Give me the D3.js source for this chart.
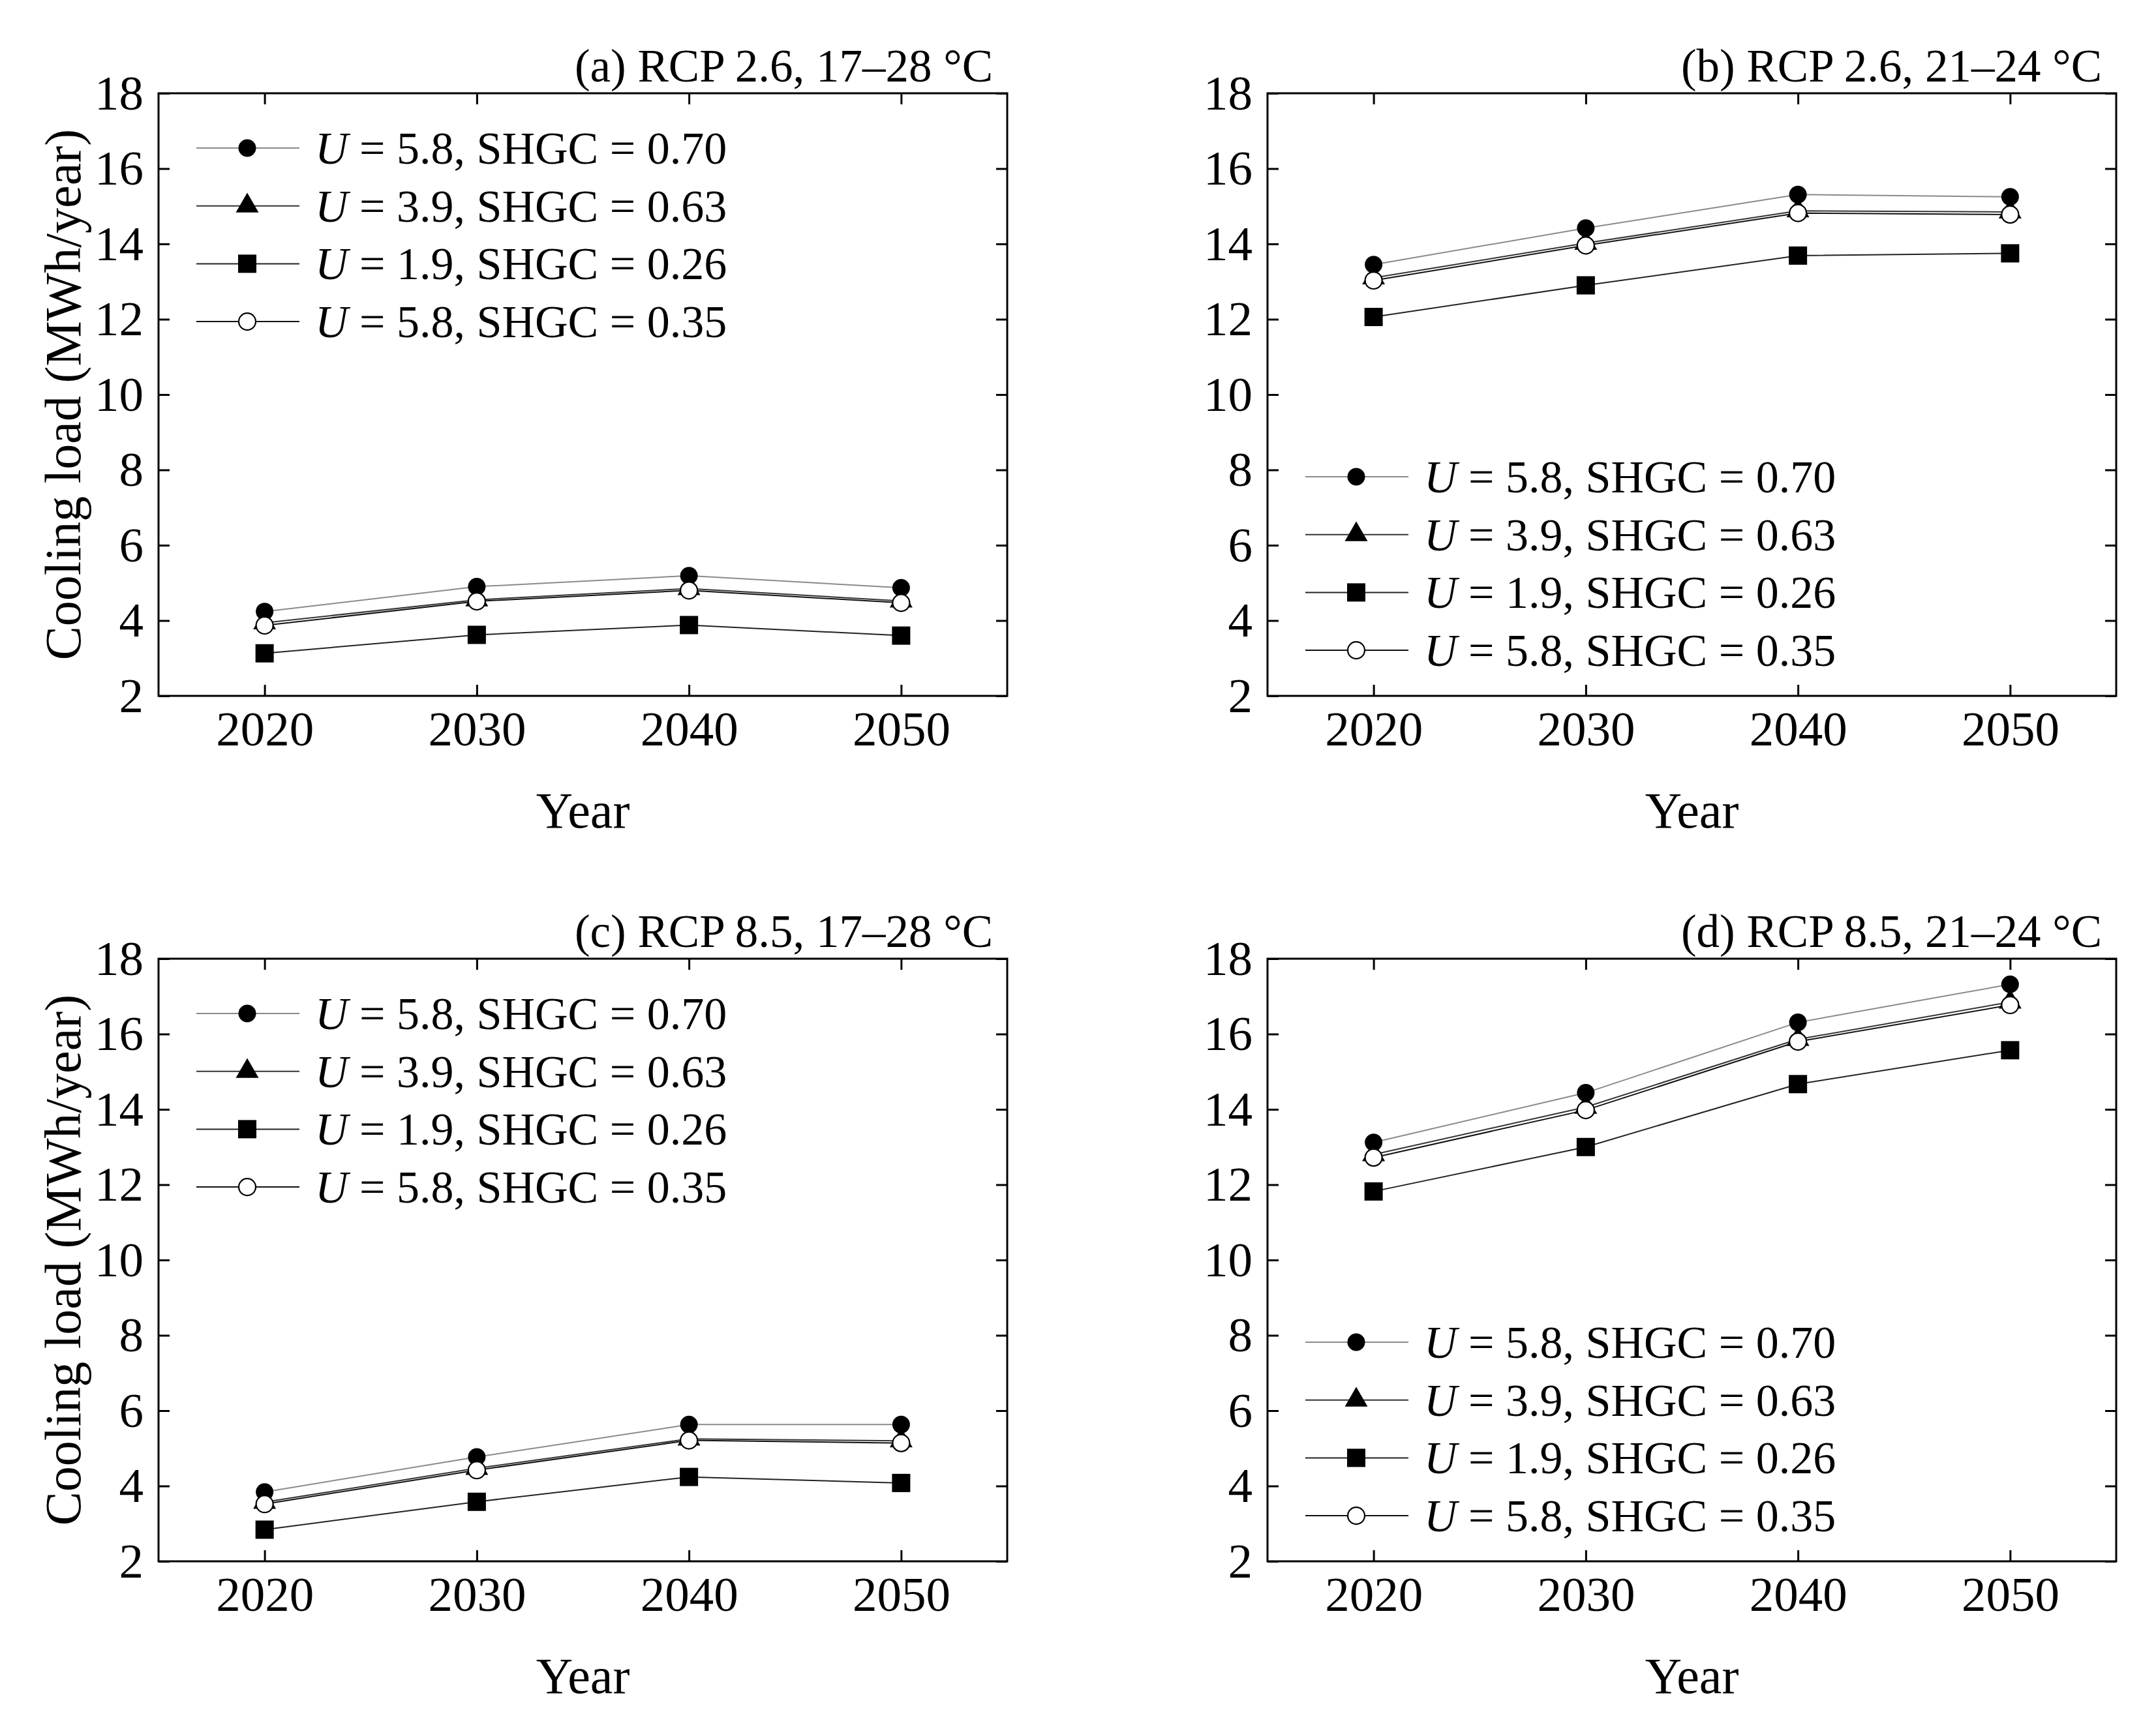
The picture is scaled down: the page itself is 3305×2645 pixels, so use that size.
<!DOCTYPE html>
<html>
<head>
    <meta charset="utf-8">
    <script src="https://d3js.org/d3.v7.min.js"></script>
    <title>Cooling load</title>
    <style>
        body { margin: 0; background: #fff; }
    </style>
</head>
<body>
    <div id="chart"></div>
    <script>
        // values (MWh/year)
        const years = [2020, 2030, 2040, 2050];
        const yTicks = [2, 4, 6, 8, 10, 12, 14, 16, 18];
        const seriesU = ["5.8", "3.9", "1.9", "5.8"];
        const seriesSHGC = ["0.70", "0.63", "0.26", "0.35"];
        const panelTitles = ["(a) RCP 2.6, 17–28 °C", "(b) RCP 2.6, 21–24 °C",
                             "(c) RCP 8.5, 17–28 °C", "(d) RCP 8.5, 21–24 °C"];

        // each panel: [U5.8/0.70, U3.9/0.63, U1.9/0.26, U5.8/0.35]
        const panelA = [[4.24, 4.90, 5.19, 4.87], [3.94, 4.55, 4.85, 4.52], [3.13, 3.62, 3.88, 3.60], [3.87, 4.51, 4.80, 4.47]];
        const panelB = [[13.45, 14.42, 15.31, 15.25], [13.10, 14.02, 14.88, 14.85], [12.06, 12.90, 13.69, 13.75], [13.03, 13.96, 14.82, 14.78]];
        const panelC = [[3.84, 4.77, 5.63, 5.63], [3.57, 4.47, 5.25, 5.20], [2.84, 3.58, 4.24, 4.08], [3.52, 4.42, 5.21, 5.14]];
        const panelD = [[13.12, 14.44, 16.31, 17.32], [12.80, 14.06, 15.86, 16.85], [11.82, 13.00, 14.67, 15.57], [12.72, 13.98, 15.80, 16.77]];
        const allPanels = [panelA, panelB, panelC, panelD];

        const FONT = "'Liberation Serif', 'Times New Roman', 'DejaVu Serif', serif";
        const W = 3305, H = 2645;
        const pw = 1301, ph = 924;
        // plot box origins and legend placement per panel
        const layout = [
            { x: 243, y: 143, legendY: 84, yLabel: true },
            { x: 1943, y: 143, legendY: 588, yLabel: false },
            { x: 243, y: 1470, legendY: 84, yLabel: true },
            { x: 1943, y: 1470, legendY: 588, yLabel: false }
        ];

        const symbols = [d3.symbolCircle, d3.symbolTriangle, d3.symbolSquare, d3.symbolCircle];
        const symSize = [572, 530, 784, 530];
        const symFill = ["#000", "#000", "#000", "#fff"];
        const lineColor = ["#8a8a8a", "#333", "#222", "#111"];

        const svg = d3.select("#chart").append("svg")
            .attr("width", W)
            .attr("height", H)
            .attr("font-family", FONT);

        const x = d3.scaleLinear().domain([2015, 2055]).range([0, pw]);
        const y = d3.scaleLinear().domain([2, 18]).range([ph, 0]);

        allPanels.forEach(function (data, p) {
            const L = layout[p];
            const g = svg.append("g").attr("transform", `translate(${L.x}, ${L.y})`);

            // lines
            const line = d3.line().x((d, i) => x(years[i])).y(d => y(d));
            data.forEach(function (s, k) {
                g.append("path")
                    .attr("d", line(s))
                    .attr("fill", "none")
                    .attr("stroke", lineColor[k])
                    .attr("stroke-width", 2);
            });

            // markers
            data.forEach(function (s, k) {
                g.selectAll(".m" + k)
                    .data(s)
                    .enter().append("path")
                    .attr("class", "m" + k)
                    .attr("transform", (d, i) => `translate(${x(years[i])}, ${y(d)})`)
                    .attr("d", d3.symbol().type(symbols[k]).size(symSize[k]))
                    .attr("fill", symFill[k])
                    .attr("stroke", "#000")
                    .attr("stroke-width", k == 3 ? 2.2 : 0);
            });

            // axes with inward ticks on all four sides
            const ax = g.append("g").attr("class", "axes");
            ax.append("g")
                .call(d3.axisLeft(y).tickValues(yTicks).tickSize(-17).tickPadding(23));
            ax.append("g").attr("transform", `translate(${pw}, 0)`)
                .call(d3.axisRight(y).tickValues(yTicks).tickSize(-17).tickFormat(""));
            ax.append("g")
                .call(d3.axisTop(x).tickValues(years).tickSize(-17).tickFormat(""));
            ax.append("g").attr("transform", `translate(0, ${ph})`)
                .call(d3.axisBottom(x).tickValues(years).tickSize(-17).tickPadding(23).tickFormat(d3.format("d")));
            ax.selectAll("g").attr("font-family", FONT).attr("font-size", 75);
            ax.selectAll(".domain").remove();
            ax.selectAll(".tick line").attr("stroke", "#000").attr("stroke-width", 3);
            ax.selectAll(".tick text")
                .attr("font-family", FONT)
                .attr("font-size", 75)
                .attr("fill", "#000");

            g.append("rect")
                .attr("width", pw)
                .attr("height", ph)
                .attr("fill", "none")
                .attr("stroke", "#000")
                .attr("stroke-width", 3);

            // panel title
            g.append("text")
                .attr("x", pw - 22)
                .attr("y", -18)
                .attr("text-anchor", "end")
                .attr("font-family", FONT)
                .attr("font-size", 71)
                .text(panelTitles[p]);

            // axis titles
            g.append("text")
                .attr("x", pw / 2)
                .attr("y", ph + 202)
                .attr("text-anchor", "middle")
                .attr("font-family", FONT)
                .attr("font-size", 78)
                .text("Year");

            if (L.yLabel) {
                g.append("text")
                    .attr("transform", "rotate(-90)")
                    .attr("x", -ph / 2)
                    .attr("y", 123 - L.x)
                    .attr("text-anchor", "middle")
                    .attr("font-family", FONT)
                    .attr("font-size", 78)
                    .text("Cooling load (MWh/year)");
            }

            // legend
            const leg = g.append("g").attr("transform", `translate(0, ${L.legendY})`);
            seriesU.forEach(function (u, k) {
                const row = leg.append("g").attr("transform", `translate(0, ${k * 88.7})`);
                row.append("line")
                    .attr("x1", 58).attr("x2", 216)
                    .attr("y1", 0).attr("y2", 0)
                    .attr("stroke", lineColor[k])
                    .attr("stroke-width", 2);
                row.append("path")
                    .attr("transform", "translate(136, 0)")
                    .attr("d", d3.symbol().type(symbols[k]).size(symSize[k]))
                    .attr("fill", symFill[k])
                    .attr("stroke", "#000")
                    .attr("stroke-width", k == 3 ? 2.2 : 0);
                const t = row.append("text")
                    .attr("x", 240)
                    .attr("y", 24)
                    .attr("font-family", FONT)
                    .attr("font-size", 70);
                t.append("tspan").attr("font-style", "italic").text("U");
                t.append("tspan").text(` = ${u}, SHGC = ${seriesSHGC[k]}`);
            });
        });
    </script>
</body>
</html>
